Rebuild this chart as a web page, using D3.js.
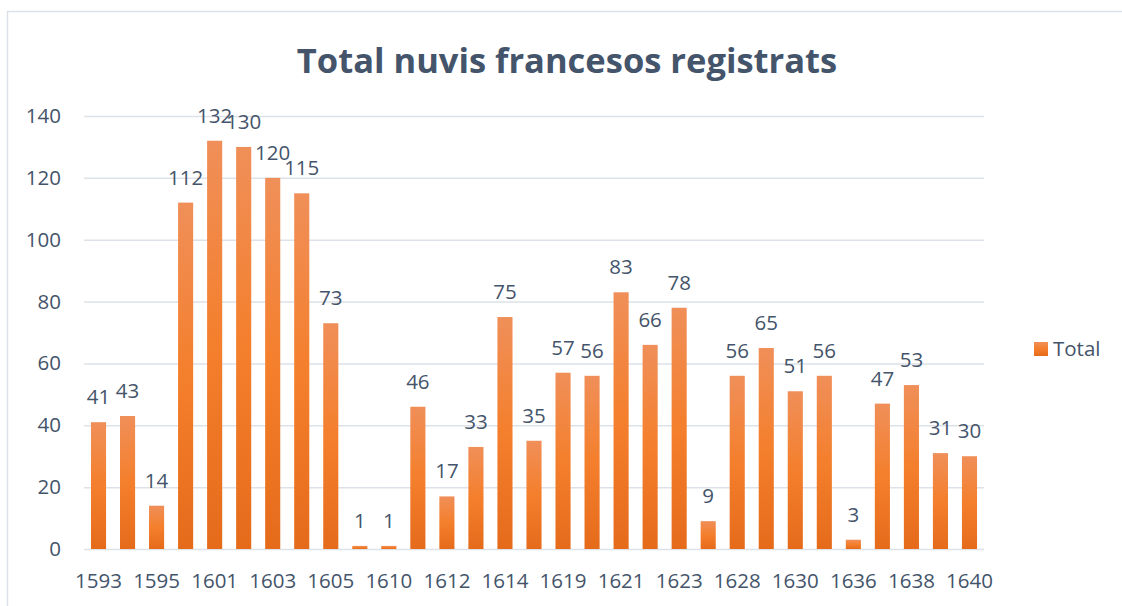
<!DOCTYPE html>
<html>
<head>
<meta charset="utf-8">
<script src="https://cdn.jsdelivr.net/npm/d3@7"></script>
<style>
  body { margin: 0; background: #fff; }
  text { font-family: "Open Sans", "Liberation Sans", sans-serif; }
</style>
</head>
<body>
<div id="chart"></div>
<script>
// data
var years = ["1593", "1594", "1595", "1600", "1601", "1602", "1603", "1604", "1605", "1609",
             "1610", "1611", "1612", "1613", "1614", "1618", "1619", "1620", "1621", "1622",
             "1623", "1627", "1628", "1629", "1630", "1635", "1636", "1637", "1638", "1639", "1640"];
var totals = [41, 43, 14, 112, 132, 130, 120, 115, 73, 1,
              1, 46, 17, 33, 75, 35, 57, 56, 83, 66,
              78, 9, 56, 65, 51, 56, 3, 47, 53, 31, 30];
var yTicks = [0, 20, 40, 60, 80, 100, 120, 140];
var seriesName = "Total";
var chartTitle = "Total nuvis francesos registrats";

var svgWidth = 1122;
var svgHeight = 606;
var margin = { top: 116, right: 138, bottom: 57, left: 84 };
var width = svgWidth - margin.left - margin.right;
var height = svgHeight - margin.top - margin.bottom;
var textColor = "#44546a";
var labelSize = "20.5px";

var svg = d3.select("#chart")
  .append("svg")
  .attr("width", svgWidth)
  .attr("height", svgHeight);

// bar gradient (light at the top, darker at the base)
var grad = svg.append("defs").append("linearGradient")
  .attr("id", "barGrad")
  .attr("x1", 0).attr("y1", 0).attr("x2", 0).attr("y2", 1);
grad.append("stop").attr("offset", "0%").attr("stop-color", "#f08f59");
grad.append("stop").attr("offset", "50%").attr("stop-color", "#f47f2c");
grad.append("stop").attr("offset", "100%").attr("stop-color", "#e56b1b");

// chart frame
svg.append("rect")
  .attr("x", 7.5).attr("y", 11.5)
  .attr("width", svgWidth + 10).attr("height", svgHeight + 10)
  .attr("fill", "none")
  .attr("stroke", "#dde2e9")
  .attr("stroke-width", 1.5);

svg.append("text")
  .attr("x", 567)
  .attr("y", 73)
  .attr("text-anchor", "middle")
  .attr("font-size", "34.5px")
  .attr("font-weight", "bold")
  .attr("fill", textColor)
  .text(chartTitle);

var chartGroup = svg.append("g")
  .attr("transform", `translate(${margin.left}, ${margin.top})`);

var xScale = d3.scaleBand()
  .domain(years)
  .range([0, width])
  .paddingInner(0.48)
  .paddingOuter(0.24);

var yScale = d3.scaleLinear()
  .domain([0, 140])
  .range([height, 0]);

// gridlines
chartGroup.append("g")
  .call(d3.axisLeft(yScale).tickValues(yTicks).tickSize(-width).tickFormat(""))
  .call(g => g.select(".domain").remove())
  .call(g => g.selectAll("line").attr("stroke", "#dde2e9").attr("stroke-width", 1.5));

// y axis labels
chartGroup.append("g")
  .call(d3.axisLeft(yScale).tickValues(yTicks).tickSize(0).tickPadding(23))
  .call(g => g.select(".domain").remove())
  .call(g => g.selectAll("text")
    .attr("font-size", labelSize)
    .attr("fill", textColor)
    .style("font-family", "'Open Sans', sans-serif"));

// bars
chartGroup.selectAll(".bar")
  .data(totals)
  .enter()
  .append("rect")
  .attr("class", "bar")
  .attr("x", (d, i) => xScale(years[i]))
  .attr("y", d => yScale(d))
  .attr("width", xScale.bandwidth())
  .attr("height", d => height - yScale(d))
  .attr("fill", "url(#barGrad)");

// value labels
chartGroup.selectAll(".val")
  .data(totals)
  .enter()
  .append("text")
  .attr("class", "val")
  .attr("x", (d, i) => xScale(years[i]) + xScale.bandwidth() / 2)
  .attr("y", d => yScale(d) - 18)
  .attr("text-anchor", "middle")
  .attr("font-size", labelSize)
  .attr("fill", textColor)
  .text(d => d);

// x axis labels, every other category
chartGroup.append("g")
  .attr("transform", `translate(0, ${height})`)
  .call(d3.axisBottom(xScale)
    .tickValues(years.filter((y, i) => i % 2 === 0))
    .tickSize(0)
    .tickPadding(24))
  .call(g => g.select(".domain").remove())
  .call(g => g.selectAll("text")
    .attr("font-size", labelSize)
    .attr("fill", textColor)
    .style("font-family", "'Open Sans', sans-serif"));

// legend
var legend = svg.append("g").attr("transform", "translate(1034, 342)");
legend.append("rect")
  .attr("width", 14).attr("height", 14)
  .attr("fill", "url(#barGrad)");
legend.append("text")
  .attr("x", 19).attr("y", 14)
  .attr("font-size", labelSize)
  .attr("fill", textColor)
  .text(seriesName);
</script>
</body>
</html>
